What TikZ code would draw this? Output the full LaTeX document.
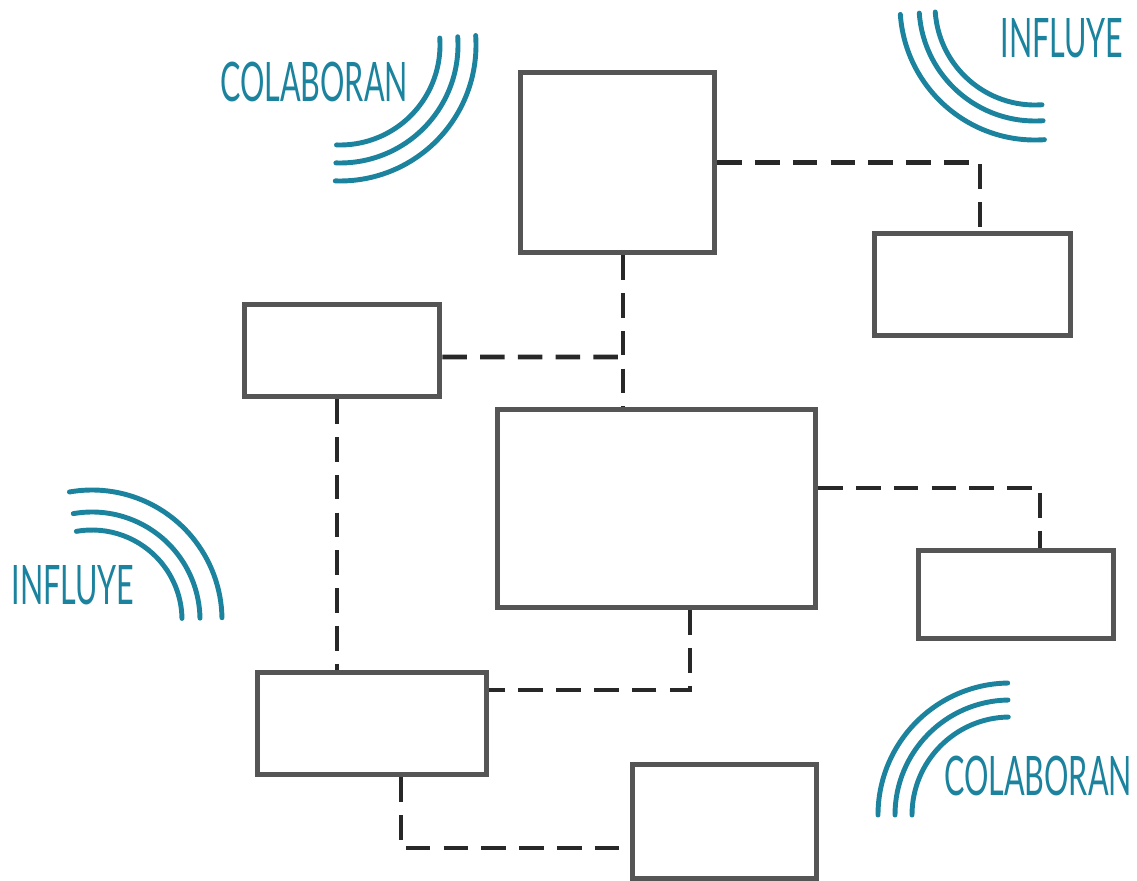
\documentclass[tikz,border=0pt]{standalone}
\usepackage{fontspec}
\usepackage{xcolor}
\usetikzlibrary{arrows}
\usetikzlibrary{shapes,positioning,calc}
\newfontfamily\handfont[FakeStretch=0.56]{Lato}
\definecolor{wavecol}{RGB}{27,131,158}
\definecolor{boxcol}{RGB}{85,85,85}
\definecolor{linkcol}{RGB}{40,40,40}

\begin{document}
\begin{tikzpicture}[x=0.02cm, y=-0.02cm,
    cajon/.style={draw=boxcol, line width=2.9pt, fill=white, inner sep=0pt},
    enlace/.style={draw=linkcol, line width=2.8pt, dash pattern=on 14pt off 7.5pt},
    onda/.style={draw=wavecol, line width=2.8pt, line cap=round},
    palabra/.style={text=wavecol, font=\handfont\fontsize{31}{31}\selectfont, inner sep=0pt}]
			\useasboundingbox (0,0) rectangle (1137,880);
			\node[cajon, minimum width=3.89cm, minimum height=3.61cm] (A) at (617.5,162.5) {};
			\node[cajon, minimum width=3.93cm, minimum height=2.05cm] (B) at (972.5,284.5) {};
			\node[cajon, minimum width=3.91cm, minimum height=1.85cm] (C) at (342,350.5) {};
			\node[cajon, minimum width=6.37cm, minimum height=3.97cm] (D) at (656.5,508.5) {};
			\node[cajon, minimum width=3.91cm, minimum height=1.77cm] (E) at (1016,594.5) {};
			\node[cajon, minimum width=4.59cm, minimum height=2.05cm] (F) at (372,723.5) {};
			\node[cajon, minimum width=3.68cm, minimum height=2.28cm] (G) at (724.5,821.5) {};
			\coordinate (cruce) at (623,357);
			\draw[enlace] (A.east) -| ([xshift=0.15cm]B.north);
			\draw[enlace] ([xshift=0.11cm]A.south) -- ([xshift=0.11cm]A.south |- D.north);
			\draw[enlace] ([yshift=-0.13cm]C.east) -- (cruce);
			\draw[enlace] ([xshift=-0.1cm]C.south) -- ([xshift=-0.1cm]C.south |- F.north);
			\draw[enlace] ([yshift=0.41cm]D.east) -| ([xshift=0.48cm]E.north);
			\draw[enlace] ([xshift=0.67cm]D.south) |- ([yshift=0.67cm]F.east);
			\draw[enlace] ([xshift=0.58cm]F.south) |- ([yshift=-0.53cm]G.west);
			\node[palabra] (colab1) at (314,82) {COLABORAN};
			\node[palabra] (influ1) at (1062,38) {INFLUYE};
			\node[palabra] (influ2) at (73,585) {INFLUYE};
			\node[palabra] (colab2) at (1038,776) {COLABORAN};
			\foreach \r in {100,118,136}
				\draw[onda] (340,45) ++(-4:\r) arc[start angle=-4, end angle=92, radius=\r];
			\foreach \r in {100,116,135}
				\draw[onda] (1035,5) ++(176:\r) arc[start angle=176, end angle=86, radius=\r];
			\foreach \r in {90,108,130}
				\draw[onda] (92,620) ++(-100:\r) arc[start angle=-100, end angle=-1, radius=\r];
			\foreach \r in {98,115,132}
				\draw[onda] (1010,815) ++(-91:\r) arc[start angle=-91, end angle=-180, radius=\r];
		\end{tikzpicture}
\end{document}
